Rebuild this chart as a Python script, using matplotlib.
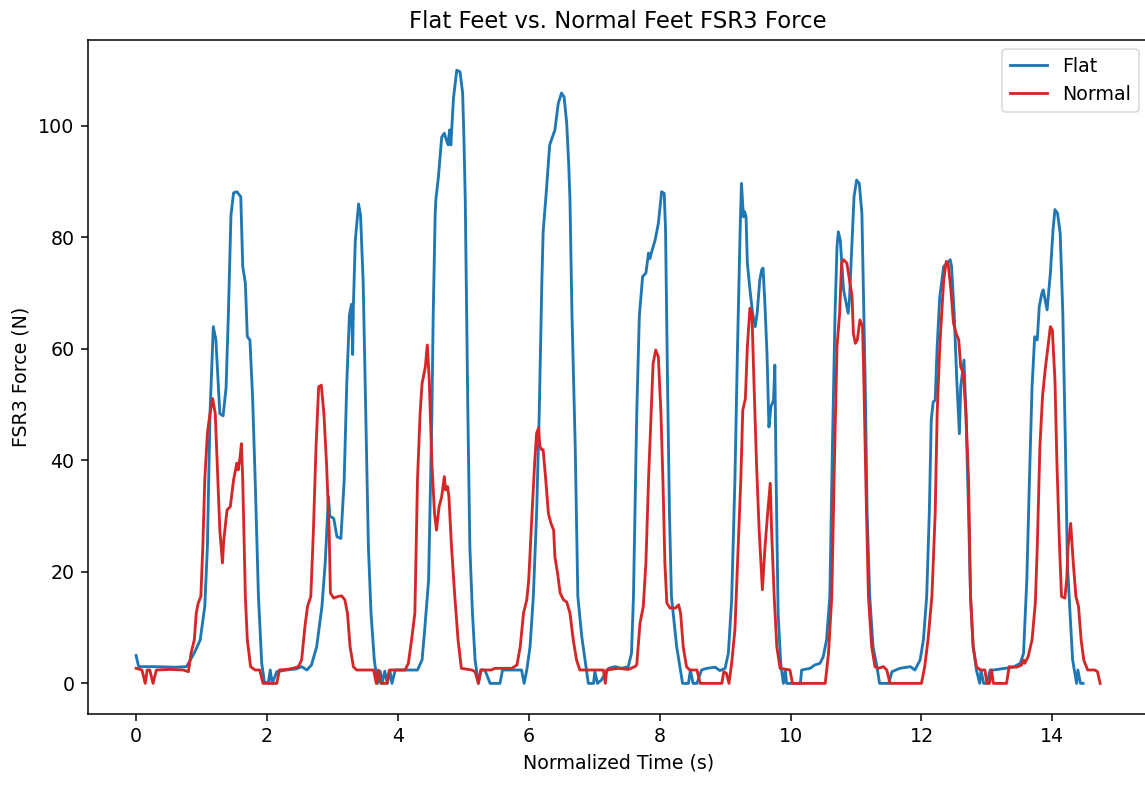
import matplotlib
matplotlib.use("Agg")
import matplotlib.pyplot as plt

# Flat feet FSR3 force (time s, force N)
flat_t = [0.0, 0.04, 0.3, 0.6, 0.77, 0.83, 0.9, 0.98, 1.05, 1.09, 1.13, 1.18, 1.22, 1.26, 1.28, 1.33,
          1.375, 1.41, 1.45, 1.49, 1.54, 1.6, 1.63, 1.67, 1.7, 1.74, 1.78, 1.82, 1.87, 1.92, 1.96,
          2.02, 2.05, 2.08, 2.15, 2.3, 2.45, 2.53, 2.61, 2.68, 2.76, 2.84, 2.89, 2.94, 2.96, 3.02,
          3.07, 3.13, 3.18, 3.22, 3.26, 3.29, 3.31, 3.32, 3.35, 3.4, 3.43, 3.47, 3.51, 3.55, 3.59,
          3.64, 3.69, 3.73, 3.76, 3.8, 3.84, 3.88, 3.91, 3.96, 4.1, 4.3, 4.37, 4.41, 4.47, 4.49,
          4.52, 4.54, 4.57, 4.58, 4.62, 4.67, 4.71, 4.75, 4.77, 4.79, 4.81, 4.85, 4.9, 4.95, 4.99,
          5.01, 5.03, 5.07, 5.1, 5.14, 5.18, 5.23, 5.27, 5.33, 5.41, 5.56, 5.6, 5.75, 5.89, 5.93,
          5.97, 6.02, 6.07, 6.12, 6.16, 6.2, 6.22, 6.27, 6.32, 6.4, 6.45, 6.5, 6.54, 6.58, 6.61,
          6.63, 6.66, 6.71, 6.75, 6.81, 6.86, 6.91, 6.99, 7.01, 7.05, 7.11, 7.22, 7.32, 7.42, 7.52,
          7.57, 7.6, 7.65, 7.69, 7.74, 7.79, 7.83, 7.85, 7.88, 7.93, 7.98, 8.03, 8.07, 8.09, 8.12,
          8.15, 8.18, 8.26, 8.31, 8.35, 8.44, 8.47, 8.51, 8.57, 8.64, 8.72, 8.85, 8.92, 9.0, 9.05,
          9.1, 9.15, 9.19, 9.23, 9.25, 9.28, 9.3, 9.32, 9.34, 9.38, 9.42, 9.46, 9.49, 9.53, 9.56,
          9.58, 9.61, 9.64, 9.67, 9.7, 9.74, 9.76, 9.78, 9.81, 9.85, 9.89, 9.92, 9.94, 10.15, 10.17,
          10.3, 10.37, 10.45, 10.5, 10.55, 10.6, 10.64, 10.68, 10.71, 10.73, 10.76, 10.81, 10.85,
          10.88, 10.9, 10.94, 10.97, 11.01, 11.05, 11.09, 11.11, 11.14, 11.17, 11.21, 11.26, 11.32,
          11.36, 11.5, 11.55, 11.67, 11.83, 11.9, 11.98, 12.03, 12.08, 12.12, 12.15, 12.18, 12.21,
          12.24, 12.28, 12.34, 12.39, 12.44, 12.46, 12.5, 12.54, 12.58, 12.6, 12.65, 12.68, 12.72,
          12.75, 12.79, 12.84, 12.89, 12.91, 12.95, 13.0, 13.05, 13.1, 13.4, 13.51, 13.56, 13.61,
          13.65, 13.69, 13.73, 13.77, 13.8, 13.84, 13.86, 13.9, 13.92, 13.97, 14.01, 14.04, 14.08,
          14.12, 14.16, 14.2, 14.23, 14.27, 14.31, 14.37, 14.39, 14.43, 14.47]
flat_f = [5.0, 3.0, 3.0, 2.9, 3.0, 4.2, 5.7, 7.8, 13.8, 24.5, 48.4, 64.0, 61.6, 53.0, 48.4, 48.0,
          53.0, 66.0, 84.0, 88.0, 88.2, 87.3, 74.8, 71.8, 62.2, 61.6, 51.5, 36.5, 15.6, 3.6, 0.3,
          0.0, 2.4, 0.0, 2.1, 2.4, 2.6, 3.0, 2.4, 3.3, 6.6, 13.8, 21.6, 33.5, 30.0, 29.6,
          26.3, 26.0, 36.5, 54.0, 66.0, 68.0, 59.0, 67.6, 79.5, 86.0, 84.0, 72.0, 48.4, 24.5, 12.6,
          4.2, 0.0, 2.2, 0.0, 2.2, 0.0, 2.2, 0.0, 2.4, 2.4, 2.4, 4.2, 9.6, 18.6, 30.5,
          48.4, 66.0, 84.0, 86.7, 90.9, 98.0, 98.7, 97.2, 96.6, 99.3, 96.6, 105.0, 110.0, 109.7, 105.9,
          97.5, 86.7, 48.4, 24.5, 12.6, 4.2, 0.0, 2.4, 2.4, 0.0, 0.0, 2.4, 2.4, 2.4, 0.0,
          2.4, 6.6, 15.6, 30.5, 48.4, 72.0, 81.0, 88.5, 96.6, 99.3, 104.0, 105.9, 105.2, 100.5, 93.3,
          86.7, 66.4, 42.5, 15.6, 8.4, 4.2, 0.0, 0.0, 2.1, 0.0, 0.6, 2.7, 3.0, 2.7, 3.0,
          5.4, 15.6, 48.4, 66.0, 73.0, 73.6, 77.2, 76.2, 77.5, 79.5, 82.5, 88.2, 87.9, 81.4, 54.4,
          30.5, 15.6, 6.6, 3.0, 0.0, 0.0, 2.4, 0.0, 0.0, 2.4, 2.7, 2.9, 2.3, 2.7, 5.4,
          15.0, 36.5, 60.4, 81.4, 89.7, 83.7, 84.6, 83.7, 75.4, 70.6, 66.4, 64.0, 66.4, 72.4, 74.2,
          74.5, 67.6, 59.2, 46.0, 49.6, 50.8, 57.1, 36.5, 12.6, 3.6, 0.0, 2.4, 0.0, 0.0, 2.4,
          2.7, 3.3, 3.6, 4.8, 7.8, 15.6, 42.5, 66.4, 78.4, 81.0, 79.5, 70.6, 68.2,
          66.4, 68.8, 79.5, 87.3, 90.3, 89.7, 84.3, 72.4, 54.4, 30.5, 15.6, 6.6, 3.0,
          0.0, 0.0, 2.1, 2.7, 3.0, 2.4, 4.2, 7.8, 15.6, 30.5, 47.3, 50.5, 50.8,
          60.4, 69.4, 74.8, 75.4, 76.0, 74.8, 66.4, 54.4, 44.8, 53.2, 58.0, 48.4, 30.5,
          15.6, 6.6, 2.4, 0.0, 2.4, 0.0, 0.0, 2.4, 2.4, 2.9, 3.6, 5.4, 18.6,
          36.5, 53.2, 62.2, 61.6, 67.6, 70.0, 70.6, 68.2, 67.0, 73.6, 81.3, 85.0, 84.3,
          80.7, 66.4, 42.5, 21.6, 12.6, 4.2, 0.0, 2.4, 0.0, 0.0]

# Normal feet FSR3 force (time s, force N)
normal_t = [0.0, 0.09, 0.14, 0.17, 0.21, 0.26, 0.31, 0.52, 0.72, 0.8, 0.84, 0.89, 0.92, 0.95, 0.99,
            1.02, 1.05, 1.09, 1.13, 1.17, 1.21, 1.24, 1.28, 1.32, 1.34, 1.39, 1.44, 1.49, 1.54, 1.56,
            1.59, 1.61, 1.63, 1.67, 1.7, 1.75, 1.82, 1.89, 1.94, 2.15, 2.19, 2.3, 2.4, 2.48, 2.53,
            2.58, 2.62, 2.67, 2.71, 2.75, 2.79, 2.83, 2.87, 2.91, 2.95, 2.97, 3.02, 3.09, 3.14, 3.19,
            3.23, 3.27, 3.32, 3.37, 3.63, 3.67, 3.7, 3.74, 3.78, 3.83, 3.87, 4.11, 4.16, 4.21, 4.26,
            4.3, 4.34, 4.37, 4.42, 4.45, 4.48, 4.52, 4.56, 4.59, 4.63, 4.67, 4.71, 4.73, 4.76, 4.78,
            4.82, 4.87, 4.92, 4.97, 5.13, 5.18, 5.23, 5.27, 5.43, 5.48, 5.74, 5.82, 5.87, 5.92, 5.97,
            6.0, 6.05, 6.09, 6.12, 6.15, 6.17, 6.2, 6.22, 6.26, 6.3, 6.34, 6.38, 6.4, 6.44, 6.48,
            6.53, 6.58, 6.63, 6.68, 6.73, 6.78, 7.01, 7.14, 7.17, 7.19, 7.37, 7.52, 7.62, 7.65, 7.7,
            7.75, 7.79, 7.83, 7.86, 7.9, 7.94, 7.98, 8.02, 8.05, 8.08, 8.11, 8.16, 8.24, 8.29, 8.32,
            8.36, 8.41, 8.46, 8.57, 8.62, 8.95, 8.98, 9.02, 9.06, 9.1, 9.15, 9.2, 9.24, 9.27, 9.31,
            9.34, 9.38, 9.41, 9.44, 9.48, 9.52, 9.57, 9.61, 9.65, 9.69, 9.71, 9.75, 9.79, 9.84, 9.99,
            10.03, 10.53, 10.58, 10.63, 10.67, 10.71, 10.75, 10.78, 10.81, 10.86, 10.9, 10.94, 10.96,
            10.99, 11.02, 11.06, 11.1, 11.12, 11.15, 11.19, 11.24, 11.29, 11.34, 11.42, 11.47, 11.52,
            12.0, 12.05, 12.1, 12.16, 12.21, 12.24, 12.28, 12.34, 12.38, 12.41, 12.45, 12.49, 12.53,
            12.57, 12.6, 12.64, 12.68, 12.72, 12.75, 12.79, 12.84, 12.9, 12.97, 13.0, 13.04, 13.07,
            13.1, 13.3, 13.34, 13.45, 13.53, 13.56, 13.58, 13.63, 13.69, 13.74, 13.77, 13.81, 13.85,
            13.89, 13.94, 13.97, 14.0, 14.04, 14.07, 14.11, 14.14, 14.19, 14.22, 14.24, 14.28, 14.32,
            14.36, 14.4, 14.44, 14.48, 14.54, 14.65, 14.69, 14.73]
normal_f = [2.7, 2.4, 0.0, 2.4, 2.4, 0.0, 2.4, 2.5, 2.4, 2.1, 5.4, 7.8, 12.6, 14.4, 15.6,
            24.5, 36.5, 44.9, 48.4, 51.1, 48.4, 39.5, 27.5, 21.6, 25.7, 31.1, 31.7, 36.5, 39.5, 38.3,
            40.7, 43.0, 36.5, 15.6, 7.8, 3.0, 2.4, 2.4, 0.0, 0.0, 2.4, 2.5, 2.7, 3.0, 4.2,
            10.2, 13.8, 15.6, 27.5, 42.5, 53.2, 53.5, 48.4, 39.5, 27.5, 16.2, 15.3, 15.6, 15.7, 15.0,
            12.6, 6.6, 3.0, 2.4, 2.4, 0.0, 2.4, 0.0, 0.0, 0.0, 2.4, 2.4, 3.6, 7.8, 12.6,
            36.5, 48.4, 53.8, 56.8, 60.7, 54.4, 39.5, 30.5, 27.5, 31.7, 33.5, 37.1, 34.7, 35.3, 33.5,
            24.5, 15.6, 7.8, 2.7, 2.4, 2.1, 0.0, 2.4, 2.4, 2.7, 2.7, 3.3, 6.6, 12.6, 15.0,
            18.6, 30.5, 39.5, 44.9, 45.8, 42.5, 41.9, 41.9, 36.5, 30.5, 28.7, 27.5, 22.7, 19.8, 16.2,
            15.0, 14.6, 12.6, 7.8, 4.2, 2.4, 2.4, 2.4, 0.0, 2.4, 2.7, 2.5, 3.0, 3.3, 10.8,
            13.8, 21.6, 36.5, 45.5, 57.4, 59.8, 58.6, 48.4, 36.5, 21.6, 14.4, 13.5, 13.5, 14.1, 12.6,
            6.6, 3.0, 2.4, 2.4, 0.0, 0.0, 2.1, 1.8, 0.0, 3.6, 9.6, 24.5, 36.5, 49.0, 51.1,
            60.4, 67.3, 66.4, 54.4, 39.5, 27.5, 16.8, 24.5, 30.5, 35.9, 27.5, 15.6, 6.6, 2.7, 2.4,
            0.0, 0.0, 5.4, 15.6, 39.5, 60.4, 66.4, 75.4, 76.0, 75.4, 72.4, 69.4, 62.8,
            61.0, 61.6, 65.2, 64.0, 54.4, 36.5, 15.6, 6.6, 3.0, 2.7, 3.0, 2.4, 0.0,
            0.0, 3.0, 7.8, 15.6, 30.5, 48.4, 60.4, 72.4, 75.7, 75.1, 70.6, 64.6, 62.8,
            61.6, 56.8, 55.6, 48.4, 36.5, 15.6, 6.6, 3.0, 2.4, 2.4, 0.0, 0.0, 2.4,
            0.0, 0.0, 3.0, 2.9, 3.3, 4.2, 3.6, 4.8, 7.8, 14.4, 24.5, 42.5, 51.5,
            56.2, 61.0, 64.0, 63.4, 54.4, 39.5, 24.5, 15.6, 15.3, 18.6, 24.5, 28.7, 21.6,
            15.6, 13.8, 7.8, 4.2, 2.4, 2.4, 2.1, 0.0]

title = "Flat Feet vs. Normal Feet FSR3 Force"
xlabel = "Normalized Time (s)"
ylabel = "FSR3 Force (N)"

S = 1.365  # overall scale of the reference rendering relative to defaults
fig = plt.figure(figsize=(11.45, 7.85), dpi=100)
ax = fig.add_axes([0.0767, 0.0904, 0.9264, 0.8592])
ax.plot(flat_t, flat_f, color="#1f77b4", lw=1.5 * S, label="Flat")
ax.plot(normal_t, normal_f, color="#d62728", lw=1.5 * S, label="Normal")
ax.set_xlim(-0.737, 15.47)
ax.set_ylim(-5.5, 115.5)
ax.set_xticks([0, 2, 4, 6, 8, 10, 12, 14])
ax.set_yticks([0, 20, 40, 60, 80, 100])
ax.tick_params(labelsize=10 * S, length=3.5 * S, width=0.8 * S, pad=3.5 * S)
for sp in ax.spines.values():
    sp.set_linewidth(0.8 * S)
ax.set_title(title, fontsize=12 * S, pad=6 * S)
ax.set_xlabel(xlabel, fontsize=10 * S, labelpad=4 * S)
ax.set_ylabel(ylabel, fontsize=10 * S, labelpad=4 * S)
leg = ax.legend(loc="upper right", fontsize=10 * S)
leg.get_frame().set_linewidth(0.8 * S)
fig.savefig("out.png", dpi=100)
